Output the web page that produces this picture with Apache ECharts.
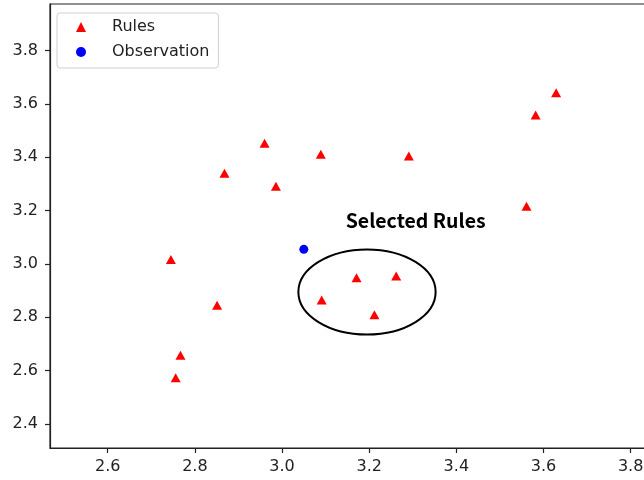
<!DOCTYPE html>
<html>
<head>
<meta charset="utf-8">
<script src="https://cdn.jsdelivr.net/npm/echarts@6/dist/echarts.min.js"></script>
<style>html,body{margin:0;padding:0;background:#fff}#c{width:644px;height:480px}</style>
</head>
<body>
<div id="c"></div>
<script>
// Data
const rulesX = [3.629, 3.582, 3.561, 3.291, 3.089, 2.960, 2.986, 2.868, 2.745, 2.851, 2.767, 2.756, 3.091, 3.171, 3.262, 3.212];
const rulesY = [3.642, 3.559, 3.217, 3.405, 3.412, 3.453, 3.292, 3.340, 3.017, 2.845, 2.658, 2.573, 2.865, 2.948, 2.955, 2.810];
const obsX = [3.050];
const obsY = [3.055];
const xTicks = [2.6, 2.8, 3.0, 3.2, 3.4, 3.6, 3.8];
const yTicks = [2.4, 2.6, 2.8, 3.0, 3.2, 3.4, 3.6, 3.8];
const seriesNames = ['Rules', 'Observation'];
const annotText = 'Selected Rules';
const annotPos = [3.146, 3.162];
const ellipseCenter = [3.195, 2.895];
const ellipseSize = [0.315, 0.319];

const chart = echarts.init(document.getElementById('c'), null, {renderer: 'canvas'});
const font = 'DejaVu Sans';
const option = {
  animation: false,
  backgroundColor: '#fff',
  grid: {left: 50, top: 4, bottom: 32, right: -20, containLabel: false, outerBoundsMode: 'none',
         show: true, borderColor: '#222', borderWidth: 1.2, backgroundColor: 'transparent'},
  legend: {
    orient: 'vertical', left: 57, top: 13,
    padding: [6, 9, 8, 19],
    itemWidth: 10, itemHeight: 10, itemGap: 9,
    backgroundColor: 'rgba(255,255,255,0.8)', borderColor: '#d0d0d0', borderWidth: 1, borderRadius: 3,
    textStyle: {fontFamily: font, fontSize: 16, color: '#222', padding: [0, 0, 0, 21], lineHeight: 16},
    data: [{name: seriesNames[0], icon: 'triangle'}, {name: seriesNames[1], icon: 'circle'}]
  },
  xAxis: {
    type: 'value', min: 2.4676, max: 3.8765,
    splitLine: {show: false},
    axisLine: {show: true, onZero: false, lineStyle: {color: '#222', width: 1.2}},
    axisTick: {show: true, length: 5, lineStyle: {color: '#222', width: 1.2}, customValues: xTicks},
    axisLabel: {fontFamily: font, fontSize: 16, color: '#222', margin: 11, customValues: xTicks,
                formatter: v => v.toFixed(1)}
  },
  yAxis: {
    type: 'value', min: 2.31, max: 3.975,
    splitLine: {show: false},
    axisLine: {show: true, onZero: false, lineStyle: {color: '#222', width: 1.2}},
    axisTick: {show: true, length: 5, lineStyle: {color: '#222', width: 1.2}, customValues: yTicks},
    axisLabel: {fontFamily: font, fontSize: 16, color: '#222', margin: 12, customValues: yTicks,
                formatter: v => v.toFixed(1)}
  },
  series: [
    {
      name: seriesNames[0], type: 'scatter', symbol: 'triangle', symbolSize: [10, 9],
      itemStyle: {color: '#ff0000', opacity: 1},
      data: rulesX.map((x, i) => [x, rulesY[i]])
    },
    {
      name: seriesNames[1], type: 'scatter', symbol: 'circle', symbolSize: 9,
      itemStyle: {color: '#0000ff', opacity: 1},
      data: obsX.map((x, i) => [x, obsY[i]])
    },
    {
      type: 'custom', silent: true, z: 5,
      data: [[ellipseCenter[0], ellipseCenter[1]]],
      renderItem: function (params, api) {
        const c = api.coord([api.value(0), api.value(1)]);
        const s = api.size(ellipseSize);
        return {type: 'ellipse', shape: {cx: c[0], cy: c[1], rx: s[0] / 2, ry: s[1] / 2},
                style: {fill: 'none', stroke: '#000', lineWidth: 2}};
      }
    },
    {
      type: 'custom', silent: true, z: 5,
      data: [[annotPos[0], annotPos[1]]],
      renderItem: function (params, api) {
        const c = api.coord([api.value(0), api.value(1)]);
        return {type: 'text', x: c[0], y: c[1],
                style: {text: annotText, fill: '#000', font: 'bold 19.5px "Noto Sans CJK SC"',
                        textAlign: 'left', textVerticalAlign: 'middle'}};
      }
    }
  ]
};
chart.setOption(option);
</script>
</body>
</html>
